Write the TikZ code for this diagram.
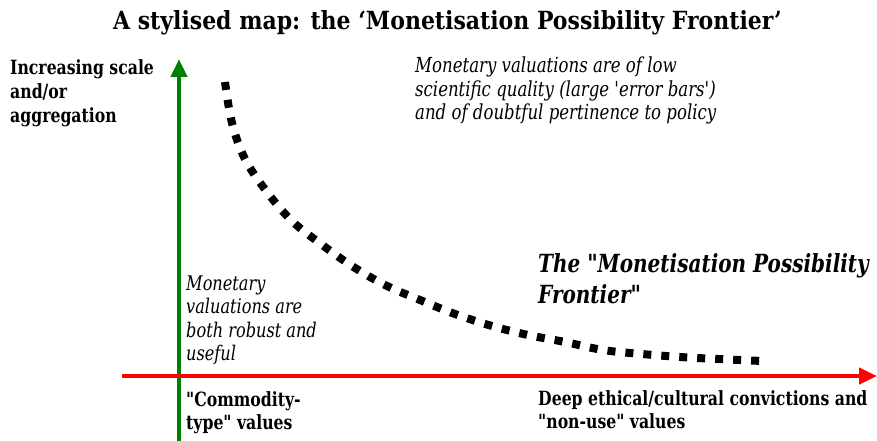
\documentclass[tikz,border=0pt]{standalone}
\usepackage{fontspec}
\setmainfont{DejaVu Serif}[Ligatures=TeXOff, FakeStretch=0.8]
\newfontfamily\titlefont{DejaVu Serif}[Ligatures=TeXOff, FakeStretch=0.88]
\usetikzlibrary{arrows.meta}
\definecolor{axgreen}{RGB}{0,128,0}
\definecolor{axred}{RGB}{255,0,0}
\tikzset{
  ln/.style={inner sep=0pt, anchor=base west},
  boldln/.style={ln, font=\fontsize{19.6}{23.5}\selectfont\bfseries},
  itln/.style={ln, font=\fontsize{20.2}{23.5}\selectfont\itshape},
  topln/.style={ln, font=\fontsize{20.7}{23.5}\selectfont\itshape},
  mpfln/.style={ln, font=\fontsize{25}{31}\selectfont\bfseries\itshape},
  axis/.style={line width=4.5pt, -{Triangle[width=16pt,length=18pt]}},
}
\begin{document}
\begin{tikzpicture}[x=1pt,y=-1pt]
\useasboundingbox (0,0) rectangle (877,441);
\node[inner sep=0pt, anchor=base, font=\fontsize{25}{30}\titlefont\bfseries] (title) at (447.5,30) {A stylised map: the ‘Monetisation Possibility Frontier’};
\coordinate (gs) at (179,441);
\coordinate (ge) at (179,59);
\coordinate (rs) at (122,376);
\coordinate (re) at (877,376);
\draw[axis, axgreen] (gs) -- (ge);
\draw[axis, axred] (rs) -- (re);
\node[boldln] (yl1) at (10,75) {Increasing scale};
\node[boldln] (yl2) at (10,98.5) {and/or};
\node[boldln] (yl3) at (10,122) {aggregation};
\node[topln] (top1) at (415,72.5) {Monetary valuations are of low};
\node[topln] (top2) at (415,96) {scientific quality (large 'error bars')};
\node[topln] (top3) at (415,119.5) {and of doubtful pertinence to policy};
\node[mpfln] (mpf1) at (538,272) {The "Monetisation Possibility};
\node[mpfln] (mpf2) at (538,303) {Frontier"};
\node[itln] (rob1) at (186,290) {Monetary};
\node[itln] (rob2) at (186,313.5) {valuations are};
\node[itln] (rob3) at (186,337) {both robust and};
\node[itln] (rob4) at (186,360.5) {useful};
\node[boldln] (com1) at (186,406) {"Commodity-};
\node[boldln] (com2) at (186,429) {type" values};
\node[boldln] (deep1) at (538,405.5) {Deep ethical/cultural convictions and};
\node[boldln] (deep2) at (538,428.5) {"non-use" values};
\draw[line width=8pt, dash pattern=on 8pt off 10pt]
  plot[smooth, tension=0.6] coordinates {(225,82) (232,123) (245,159) (267,192) (292,221) (321,244) (352,266) (385,285) (420,300) (455,314) (492,326) (528,335) (565,342) (603,350) (642,354) (680,357) (718,359) (762,361)};
\end{tikzpicture}
\end{document}
